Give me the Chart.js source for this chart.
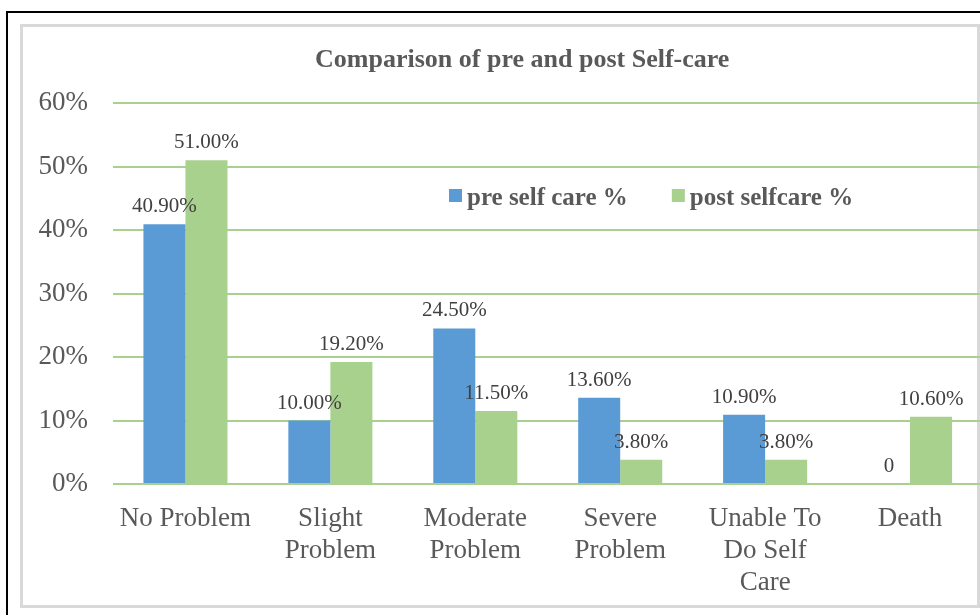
<!DOCTYPE html>
<html>
<head>
<meta charset="utf-8">
<title>Comparison of pre and post Self-care</title>
<script src="https://cdn.jsdelivr.net/npm/chart.js@4.4.1/dist/chart.umd.min.js"></script>
<style>
  html, body { margin: 0; padding: 0; background: #fff; overflow: hidden; }
  #page { position: relative; width: 980px; height: 615px; overflow: hidden; background: #fff; }
  #frame { position: absolute; left: 6px; top: 11px; width: 1100px; height: 700px; border: 2px solid #000; }
  #panel { position: absolute; left: 20px; top: 24px; width: 960px; height: 584px; box-sizing: border-box; border: 3px solid #d9d9d9; }
  #chartBox { position: absolute; left: 0; top: 0; width: 1000px; height: 615px; }
</style>
</head>
<body>
<div id="page">
  <div id="frame"></div>
  <div id="panel"></div>
  <div id="chartBox"><canvas id="selfCareChart" width="1000" height="615"></canvas></div>
</div>
<script>
const categories = [
  ["No Problem"],
  ["Slight", "Problem"],
  ["Moderate", "Problem"],
  ["Severe", "Problem"],
  ["Unable To", "Do Self", "Care"],
  ["Death"]
];
const seriesNames = ["pre self care %", "post selfcare %"];
const preSelfCare = [40.9, 10.0, 24.5, 13.6, 10.9, 0];
const postSelfCare = [51.0, 19.2, 11.5, 3.8, 3.8, 10.6];
const chartTitle = "Comparison of pre and post Self-care";
const yMax = 60;
const yStep = 10;

const SERIF = "'Liberation Serif', 'Times New Roman', serif";
const BLUE = "#5b9bd5";
const GREEN = "#a9d18e";
const GREY_TEXT = "#595959";
Chart.defaults.font.family = SERIF;

// title sits a little left of the plot centre, over the top gridline
const headline = {
  id: "headline",
  afterDraw(chart) {
    const ctx = chart.ctx;
    const area = chart.chartArea;
    ctx.save();
    ctx.font = "bold 26px " + SERIF;
    ctx.fillStyle = GREY_TEXT;
    ctx.textAlign = "center";
    ctx.textBaseline = "middle";
    ctx.fillText(chartTitle, (area.left + area.right) / 2 - 25.5, area.top - 43);
    ctx.restore();
  }
};

// value printed above each bar, "0" stays a bare zero
const valueLabels = {
  id: "valueLabels",
  afterDatasetsDraw(chart) {
    const ctx = chart.ctx;
    ctx.save();
    ctx.font = "21px " + SERIF;
    ctx.fillStyle = "#404040";
    ctx.textAlign = "center";
    ctx.textBaseline = "alphabetic";
    chart.data.datasets.forEach((ds, i) => {
      chart.getDatasetMeta(i).data.forEach((bar, j) => {
        const v = ds.data[j];
        const txt = v === 0 ? "0" : v.toFixed(2) + "%";
        ctx.fillText(txt, bar.x, bar.y - 12);
      });
    });
    ctx.restore();
  }
};

// legend sits inside the plot, upper right
const insideLegend = {
  id: "insideLegend",
  afterDraw(chart) {
    const ctx = chart.ctx;
    const area = chart.chartArea;
    let x = area.left + 336;
    const top = area.top + 86;
    ctx.save();
    ctx.font = "bold 25px " + SERIF;
    ctx.textBaseline = "middle";
    ctx.textAlign = "left";
    chart.data.datasets.forEach(ds => {
      ctx.fillStyle = ds.backgroundColor;
      ctx.fillRect(x, top, 13, 13);
      ctx.fillStyle = GREY_TEXT;
      ctx.fillText(ds.label, x + 18, top + 10);
      x += 18 + ctx.measureText(ds.label).width + 44;
    });
    ctx.restore();
  }
};

new Chart(document.getElementById("selfCareChart"), {
  type: "bar",
  data: {
    labels: categories,
    datasets: [
      { label: seriesNames[0], data: preSelfCare, backgroundColor: BLUE },
      { label: seriesNames[1], data: postSelfCare, backgroundColor: GREEN }
    ]
  },
  options: {
    responsive: false,
    animation: false,
    devicePixelRatio: 1,
    layout: { padding: { left: 0, right: 17.5, top: 103, bottom: 0 } },
    datasets: { bar: { categoryPercentage: 0.58, barPercentage: 1.0, borderWidth: 0 } },
    plugins: {
      legend: { display: false },
      tooltip: { enabled: false },
      title: { display: false }
    },
    scales: {
      x: {
        grid: { display: false, drawTicks: false },
        border: { display: false },
        ticks: {
          color: GREY_TEXT,
          font: { size: 27, lineHeight: 32 / 27 },
          padding: 19,
          autoSkip: false,
          maxRotation: 0
        },
        afterFit(scale) { scale.height = 131; }
      },
      y: {
        min: 0,
        max: yMax,
        grid: { color: "#a9d08e", lineWidth: 2, drawTicks: false },
        border: { display: false },
        ticks: {
          stepSize: yStep,
          color: GREY_TEXT,
          font: { size: 27 },
          padding: 25,
          callback: v => v + "%"
        },
        afterFit(scale) { scale.width = 113; }
      }
    }
  },
  plugins: [valueLabels, insideLegend, headline]
});
</script>
</body>
</html>
